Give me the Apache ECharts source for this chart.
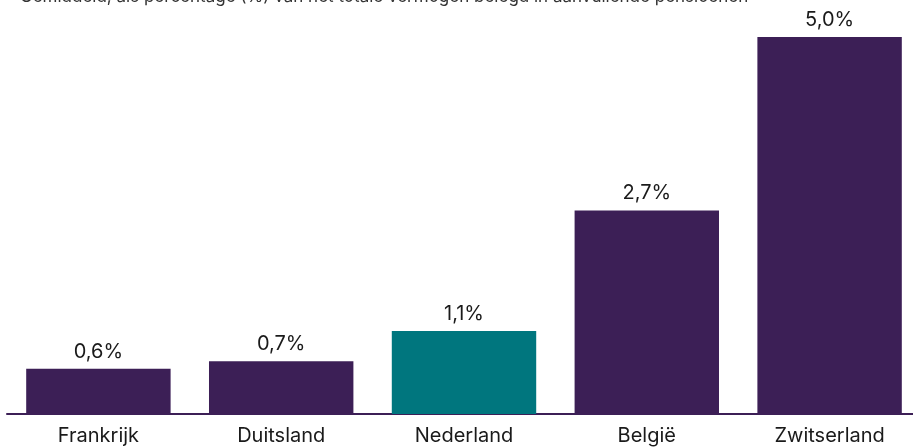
<!DOCTYPE html>
<html><head><meta charset="utf-8">
<script src="https://cdn.jsdelivr.net/npm/echarts@6/dist/echarts.min.js"></script>
<style>html,body{margin:0;padding:0;background:#fff;overflow:hidden}#c{width:921px;height:448px}</style>
</head><body><div id="c"></div>
<script>
const categories = ['Frankrijk', 'Duitsland', 'Nederland', 'België', 'Zwitserland'];
const values = [0.6, 0.7, 1.1, 2.7, 5.0];
const highlight = 'Nederland';
const subtitle = 'Gemiddeld, als percentage (%) van het totale vermogen belegd in aanvullende pensioenen';

const purple = '#3c1f56', teal = '#00767e';
const chart = echarts.init(document.getElementById('c'));
chart.setOption({
  animation: false,
  graphic: [{ type: 'text', left: 20, top: -12, style: { text: subtitle, font: '17px Inter, sans-serif', fill: '#333' } }],
  grid: { left: 7, right: 0, top: 37, bottom: 34 },
  xAxis: {
    type: 'category', data: categories,
    axisLine: { lineStyle: { color: purple, width: 2 } },
    axisTick: { show: false },
    axisLabel: { color: '#1a1a1a', fontSize: 20, fontFamily: 'Inter, sans-serif', margin: 12 }
  },
  yAxis: { type: 'value', min: 0, max: 5, show: false, splitLine: { show: false } },
  series: [{
    type: 'bar', barCategoryGap: '21%',
    data: categories.map((c, i) => ({ value: values[i], itemStyle: { color: c === highlight ? teal : purple } })),
    label: {
      show: true, position: 'top', distance: 7, color: '#1a1a1a', fontSize: 20,
      fontFamily: 'Inter, sans-serif',
      formatter: p => p.value.toFixed(1).replace('.', ',') + '%'
    }
  }]
});
</script></body></html>
